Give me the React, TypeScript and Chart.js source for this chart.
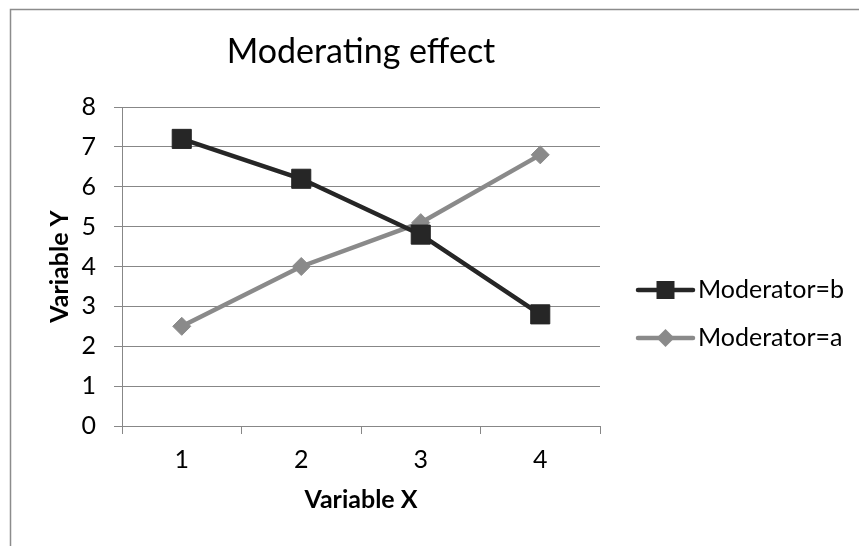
import React, { useEffect, useRef } from "react";
import { Chart, registerables } from "chart.js";

Chart.register(...registerables);

// ---- data ----
const categories = ["1", "2", "3", "4"];
const seriesB = [7.2, 6.2, 4.8, 2.8];
const seriesA = [2.5, 4.0, 5.1, 6.8];
const seriesNames = ["Moderator=b", "Moderator=a"];
const yMin = 0;
const yMax = 8;
const yStep = 1;
const chartTitle = "Moderating effect";
const xTitle = "Variable X";
const yTitle = "Variable Y";

// ---- styles ----
const FONT = "Lato, 'Open Sans', 'Noto Sans', sans-serif";
const DARK = "#262626";
const LIGHT = "#8a8a8a";
const GRID = "#878787";

const framePlugin = {
  id: "frame",
  beforeDraw(chart: any) {
    const ctx = chart.ctx;
    ctx.save();
    ctx.fillStyle = "#ffffff";
    ctx.fillRect(0, 0, chart.width, chart.height);
    ctx.strokeStyle = "#8c8c8c";
    ctx.lineWidth = 1.5;
    ctx.strokeRect(10.5, 9.5, chart.width + 50, chart.height + 50);
    ctx.restore();
  },
};

const legendPlugin = {
  id: "excelLegend",
  afterDraw(chart: any) {
    const ctx = chart.ctx;
    const area = chart.chartArea;
    const x0 = area.right + 38;
    const x1 = area.right + 93;
    const tx = area.right + 98;
    const rowTop = 290;
    const rowGap = 48;
    ctx.save();
    chart.data.datasets.forEach((ds: any, i: number) => {
      const y = rowTop + i * rowGap;
      ctx.strokeStyle = ds.borderColor;
      ctx.lineWidth = ds.borderWidth;
      ctx.lineCap = "round";
      ctx.beginPath();
      ctx.moveTo(x0, y);
      ctx.lineTo(x1, y);
      ctx.stroke();
      const cx = (x0 + x1) / 2;
      ctx.fillStyle = ds.pointBackgroundColor;
      ctx.beginPath();
      if (ds.pointStyle === "rect") {
        ctx.rect(cx - 9, y - 9, 18, 18);
      } else {
        const r = 9;
        ctx.moveTo(cx - r, y);
        ctx.lineTo(cx, y - r);
        ctx.lineTo(cx + r, y);
        ctx.lineTo(cx, y + r);
        ctx.closePath();
      }
      ctx.fill();
      ctx.fillStyle = "#000000";
      ctx.font = `25px ${FONT}`;
      ctx.textAlign = "left";
      ctx.textBaseline = "middle";
      ctx.fillText(ds.label, tx, y);
    });
    ctx.restore();
  },
};

export default function App() {
  const canvasRef = useRef<HTMLCanvasElement | null>(null);

  useEffect(() => {
    if (!canvasRef.current) return;
    const chart = new Chart(canvasRef.current, {
      type: "line",
      data: {
        labels: categories,
        datasets: [
          {
            label: seriesNames[0],
            data: seriesB,
            borderColor: DARK,
            backgroundColor: DARK,
            borderWidth: 4.5,
            pointStyle: "rect",
            pointRadius: 13.5,
            pointBackgroundColor: DARK,
            pointBorderColor: DARK,
            pointBorderWidth: 1,
            tension: 0,
          },
          {
            label: seriesNames[1],
            data: seriesA,
            borderColor: LIGHT,
            backgroundColor: LIGHT,
            borderWidth: 4.5,
            pointStyle: "rectRot",
            pointRadius: 9,
            pointBackgroundColor: LIGHT,
            pointBorderColor: LIGHT,
            pointBorderWidth: 1,
            tension: 0,
          },
        ],
      },
      options: {
        responsive: false,
        animation: false,
        events: [],
        layout: { padding: { left: 0, right: 259, top: 0, bottom: 0 } },
        plugins: {
          legend: { display: false },
          tooltip: { enabled: false },
          title: {
            display: true,
            text: chartTitle,
            fullSize: false,
            color: "#000000",
            font: { family: FONT, size: 34, weight: "normal" },
            padding: { top: 32, bottom: 34.2 },
          },
        },
        scales: {
          x: {
            type: "category",
            offset: true,
            grid: {
              offset: true,
              drawOnChartArea: false,
              drawTicks: true,
              tickLength: 8,
              color: GRID,
              tickColor: GRID,
            },
            border: { color: GRID, width: 1 },
            ticks: {
              color: "#000000",
              font: { family: FONT, size: 25 },
              padding: 11,
              maxRotation: 0,
            },
            title: {
              display: true,
              text: xTitle,
              color: "#000000",
              font: { family: FONT, size: 25, weight: "bold" },
              padding: { top: 0, bottom: 31 },
            },
            afterFit: (s: any) => {
              s.height = 120;
            },
          },
          y: {
            min: yMin,
            max: yMax,
            grid: {
              color: GRID,
              tickColor: GRID,
              tickLength: 8,
              lineWidth: 1,
            },
            border: { color: GRID, width: 1 },
            ticks: {
              stepSize: yStep,
              color: "#000000",
              font: { family: FONT, size: 25 },
              padding: 18,
            },
            title: {
              display: true,
              text: yTitle,
              color: "#000000",
              font: { family: FONT, size: 25, weight: "bold" },
              padding: { top: 45, bottom: 0 },
            },
            afterFit: (s: any) => {
              s.width = 122;
            },
          },
        },
      },
      plugins: [framePlugin, legendPlugin],
    });
    return () => chart.destroy();
  }, []);

  return (
    <div style={{ position: "absolute", left: 0, top: 0, width: 859, height: 546 }}>
      <canvas ref={canvasRef} width={859} height={546} />
    </div>
  );
}
